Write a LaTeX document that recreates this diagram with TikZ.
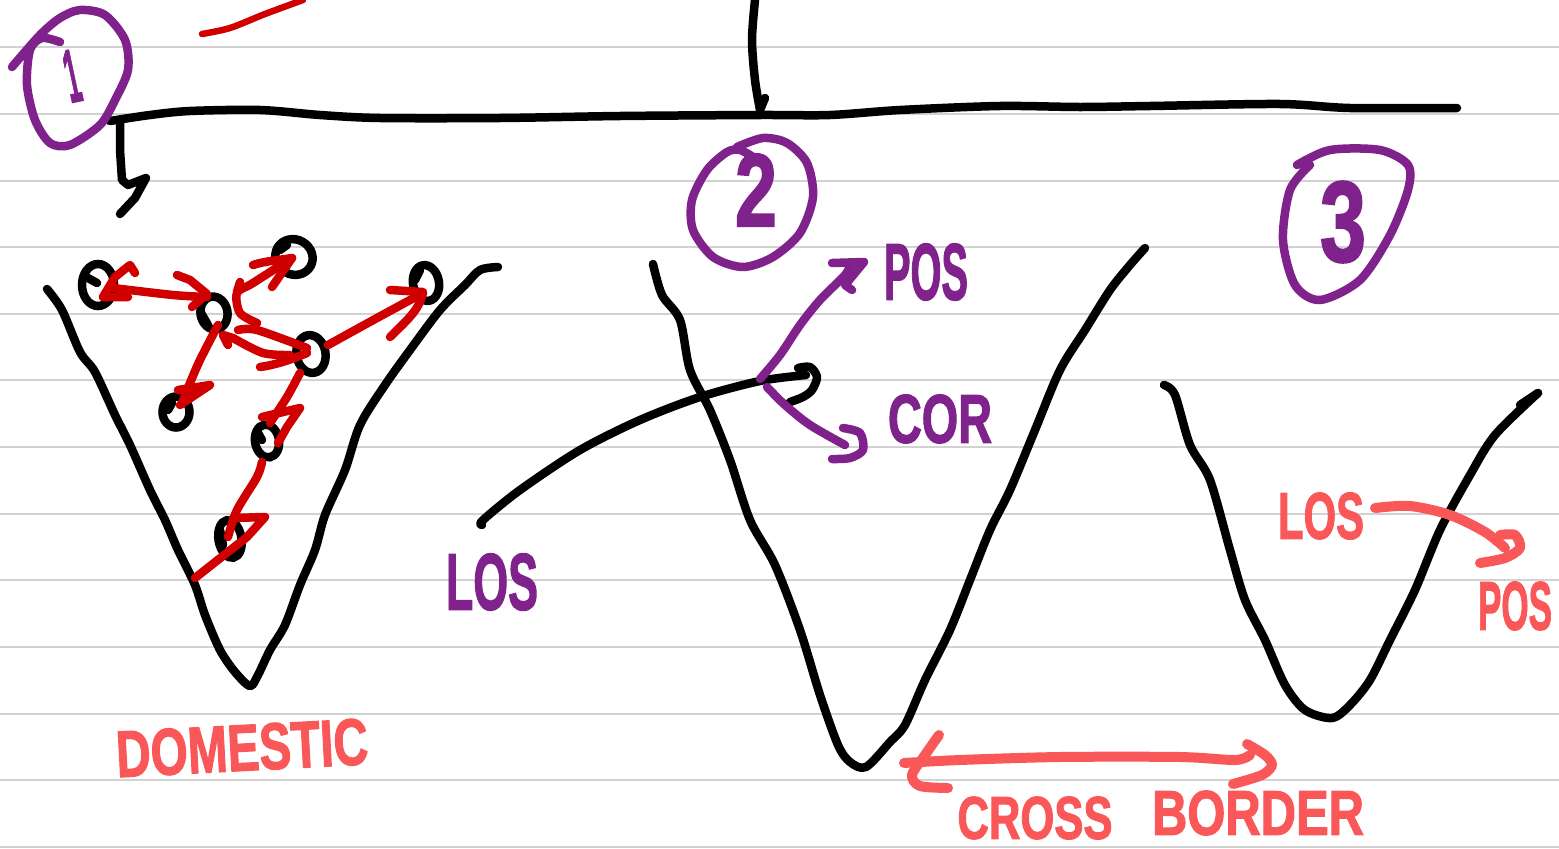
\documentclass[tikz,border=0pt]{standalone}
\usepackage{graphicx}
\usepackage{fontspec}
\setmainfont{Liberation Sans}
\newfontfamily\handfont[BoldFeatures={FakeBold=2}]{Liberation Sans}
\usetikzlibrary{shapes.geometric}
\definecolor{ruleC}{HTML}{D2D2D2}
\definecolor{inkP}{HTML}{80228C}
\definecolor{inkR}{HTML}{D00000}
\definecolor{inkC}{HTML}{FA5858}
\newcommand{\handtext}[3]{\resizebox{#1pt}{#2pt}{\handfont\bfseries #3}}
\tikzset{
  ruled/.style={draw=ruleC,line width=1.6pt},
  ink/.style={line width=#1,line cap=round,line join=round},
  blackink/.style={ink=8.5pt,draw=black},
  purpleink/.style={ink=8.5pt,draw=inkP},
  redink/.style={ink=8.5pt,draw=inkR},
  coralink/.style={ink=10pt,draw=inkC},
  blob/.style={ellipse,draw=black,line width=8.5pt,inner sep=0pt},
  label/.style={inner sep=0pt,text=#1},
}
\begin{document}
\begin{tikzpicture}[x=1pt,y=-1pt]
\useasboundingbox (0,0) rectangle (1559,849);
% ruled paper
\foreach \yy in {47,114,181,247,314,380,447,514,580,647,714,780,847}
  \draw[ruled] (0,\yy) -- (1559,\yy);
% top rule and drops
\draw[blackink] plot[smooth] coordinates {(110,121) (150,115) (190,111) (260,110) (320,115) (380,118) (500,118) (620,116) (760,115) (830,115) (900,110) (1000,106) (1080,107) (1150,106) (1280,104) (1350,108) (1457,108)};
\draw[blackink] plot[smooth] coordinates {(755,0) (752,40) (755,80) (760,110)};
\draw[blackink] (765,98) -- (760,110);
\draw[blackink] (120,122) -- (120,150) -- (122,180) -- (128,185) -- (146,178) -- (135,198) -- (120,214);
\draw[redink,line width=6.5pt] plot[smooth] coordinates {(202,34) (230,28) (265,14) (303,0)};
% valleys
\draw[blackink] plot[smooth] coordinates {(47,289) (62,310) (80,352) (95,372) (115,415) (130,445) (150,490) (165,520) (178,550) (195,585) (205,615) (220,650) (235,672) (250,686) (258,675) (270,650) (285,625) (300,585) (315,550) (325,515) (345,470) (360,425) (385,385) (410,350) (440,310) (465,285) (480,270) (498,267)};
\draw[blackink] plot[smooth] coordinates {(653,264) (662,295) (680,320) (690,370) (710,410) (730,460) (750,520) (775,565) (800,630) (820,695) (838,745) (850,762) (866,767) (890,742) (905,725) (925,680) (950,630) (970,580) (990,530) (1010,490) (1035,430) (1060,370) (1085,330) (1110,290) (1130,265) (1145,248)};
\draw[blackink] plot[smooth] coordinates {(1164,385) (1175,395) (1190,445) (1210,480) (1230,550) (1245,600) (1265,640) (1285,685) (1305,710) (1332,718) (1350,705) (1370,680) (1390,640) (1415,590) (1440,530) (1470,475) (1495,435) (1538,393)};
\draw[blackink] (1520,405) -- (1538,393);
% crossing curve
\draw[blackink] plot[smooth] coordinates {(482,525) (483,520) (520,490) (580,450) (640,420) (700,397) (760,381) (806,375)};
\draw[blackink] plot[smooth] coordinates {(798,368) (810,367) (817,377) (812,390) (803,397) (790,402)};
% blobs
\node[blob,minimum width=32pt,minimum height=42pt] (nA) at (98,285) {};
\node[blob,minimum width=27pt,minimum height=33pt,rotate=10] (nB) at (214,313) {};
\node[blob,minimum width=38pt,minimum height=35pt,rotate=-30] (nC) at (294,257) {};
\node[blob,minimum width=26pt,minimum height=36pt,rotate=10] (nD) at (426,283) {};
\node[blob,minimum width=29pt,minimum height=38pt,rotate=10] (nE) at (311,354) {};
\node[blob,minimum width=27pt,minimum height=31pt] (nF) at (176,412) {};
\node[blob,minimum width=24pt,minimum height=33pt,rotate=10] (nG) at (267,441) {};
\node[blob,minimum width=23pt,minimum height=38pt,rotate=10] (nH) at (230,539) {};
% blob thickenings
\draw[blackink] (88,278) -- (97,283);
\draw[blackink] (201,313) -- (208,325);
\draw[blackink] (280,250) -- (287,245);
\draw[blackink] (415,280) -- (420,270);
\draw[blackink] (168,410) -- (172,403);
\draw[blackink] (258,433) -- (262,440);
\draw[blackink] (220,530) -- (223,545);
% red connectors
\draw[redink] plot[smooth] coordinates {(113,288) (173,295) (207,297)};
\draw[redink] (135,273) -- (130,265) -- (115,277) -- (103,297) -- (128,297);
\draw[redink] (177,275) -- (190,280) -- (207,294) -- (192,307);
\draw[redink] plot[smooth] coordinates {(257,323) (240,313) (237,293) (253,283) (292,258)};
\draw[redink] (253,265) .. controls (265,261) and (280,260) .. (292,258) -- (272,287);
\draw[redink] (240,282) -- (237,292);
\draw[redink] plot[smooth] coordinates {(238,330) (257,330) (307,348)};
\draw[redink] (228,345) -- (223,335) -- (233,338);
\draw[redink] plot[smooth] coordinates {(233,338) (263,353) (290,355)};
\draw[redink] (260,367) .. controls (275,365) and (290,360) .. (307,353);
\draw[redink] plot[smooth] coordinates {(328,345) (377,318) (423,293)};
\draw[redink] (390,290) -- (423,292) .. controls (420,310) and (405,322) .. (390,337);
\draw[redink] plot[smooth] coordinates {(218,325) (200,360) (190,383) (182,403)};
\draw[redink] (178,390) -- (210,385) -- (180,405);
\draw[redink] plot[smooth] coordinates {(300,373) (287,397) (270,423)};
\draw[redink] (262,417) -- (300,408) -- (287,427) -- (278,443);
\draw[redink] plot[smooth] coordinates {(262,462) (257,477) (237,510) (228,537)};
\draw[redink] (233,518) -- (265,517) -- (247,537) -- (195,578);
% purple circles and arrows
\draw[purpleink] plot[smooth] coordinates {(12,67) (40,35) (60,18) (80,10) (105,15) (125,40) (128,70) (115,100) (100,125) (70,145) (50,143) (35,120) (27,85) (30,50) (42,38) (60,42)};
\draw[purpleink] plot[smooth] coordinates {(753,157) (740,150) (727,152) (707,170) (692,200) (693,230) (713,257) (743,267) (773,257) (800,233) (813,197) (807,163) (787,143) (763,138) (737,147)};
\draw[purpleink] plot[smooth] coordinates {(1297,165) (1330,150) (1380,150) (1408,165) (1408,190) (1390,235) (1360,280) (1320,300) (1295,285) (1283,240) (1290,190) (1310,165)};
\draw[purpleink] plot[smooth] coordinates {(760,379) (780,355) (800,325) (820,300) (845,275) (850,265)};
\draw[purpleink] (832,263) -- (864,262) -- (845,285) -- (852,290);
\draw[purpleink] plot[smooth] coordinates {(767,387) (785,405) (810,425) (845,445)};
\draw[purpleink] plot[smooth] coordinates {(843,428) (860,433) (863,450) (850,458) (832,459)};
% coral arrows
\draw[coralink] plot[smooth] coordinates {(904,763) (960,760) (1060,757) (1180,757) (1235,760) (1250,755)};
\draw[coralink] plot[smooth] coordinates {(939,735) (925,755) (912,775) (920,786) (948,788)};
\draw[coralink] plot[smooth] coordinates {(1247,744) (1265,755) (1272,765) (1262,775) (1233,784)};
\draw[coralink] plot[smooth] coordinates {(1375,508) (1410,506) (1450,515) (1485,532) (1505,548)};
\draw[coralink] plot[smooth] coordinates {(1500,535) (1515,535) (1520,548) (1505,558) (1480,563)};
% labels
\node[label=inkP] (one) at (72,76) {\rotatebox{12}{\handtext{14}{52}{1}}};
\node[label=inkP] (two) at (756,190) {\handtext{42}{72}{2}};
\node[label=inkP] (three) at (1343,222) {\handtext{46}{80}{3}};
\node[label=inkP] (los1) at (492,582) {\handtext{92}{56}{LOS}};
\node[label=inkP] (pos1) at (926,272) {\handtext{84}{56}{POS}};
\node[label=inkP] (cor) at (940,419) {\handtext{104}{48}{COR}};
\node[label=inkC] (dom) at (242,748) {\rotatebox{3}{\handtext{252}{46}{DOMESTIC}}};
\node[label=inkC] (cross) at (1035,818) {\handtext{155}{42}{CROSS}};
\node[label=inkC] (border) at (1258,813) {\handtext{212}{44}{BORDER}};
\node[label=inkC] (los2) at (1321,516) {\handtext{86}{46}{LOS}};
\node[label=inkC] (pos2) at (1515,606) {\handtext{74}{48}{POS}};
\end{tikzpicture}
\end{document}
